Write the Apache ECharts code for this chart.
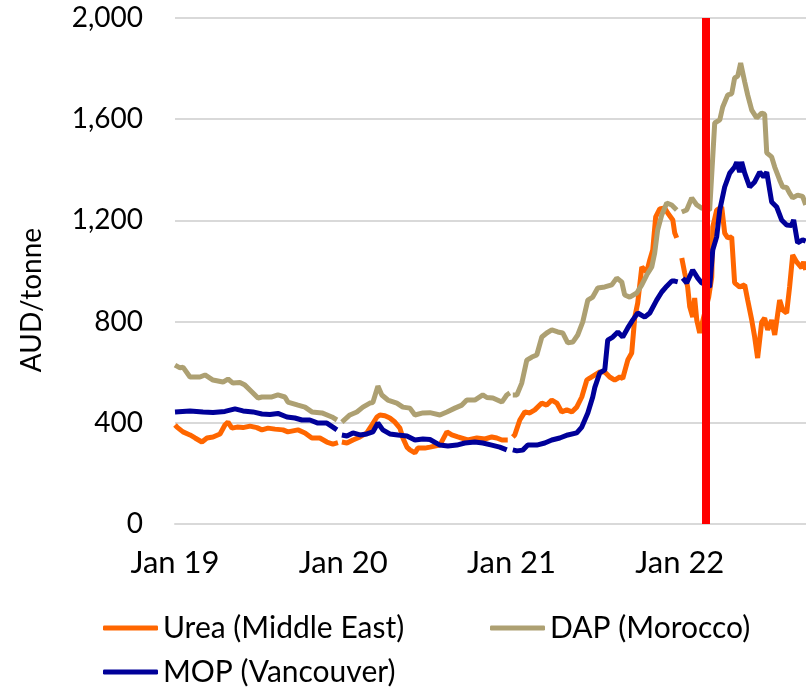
<!DOCTYPE html>
<html>
<head>
<meta charset="utf-8">
<script src="https://cdn.jsdelivr.net/npm/echarts@6/dist/echarts.min.js"></script>
<style>
  html, body { margin: 0; padding: 0; background: #fff; }
  #chart { width: 806px; height: 691px; }
</style>
</head>
<body>
<div id="chart"></div>
<script>
// months since Jan 2019, null value = break in the series
var ureaMonths = [0.0, 0.14, 0.57, 1.07, 1.43, 1.92, 2.28, 2.71, 3.21, 3.56, 3.78, 4.06, 4.42, 4.85, 5.35, 5.84, 6.20, 6.63, 7.13, 7.70, 8.05, 8.77, 9.27, 9.76, 10.33, 10.83, 11.26, 11.62,
    11.78,
    11.90, 12.26, 12.69, 13.19, 13.68, 14.04, 14.40, 14.61, 14.97, 15.32, 15.68, 16.04, 16.25, 16.54, 16.75, 17.11, 17.32, 17.82, 18.18, 18.89, 19.39, 19.74, 20.17, 20.88, 21.53, 22.10, 22.59, 22.95, 23.31, 23.73,
    23.90,
    24.09, 24.23, 24.59, 24.95, 25.30, 25.66, 26.16, 26.51, 26.87, 27.23, 27.58, 27.94, 28.30, 28.65, 29.01, 29.37, 29.58, 29.72, 30.29, 30.65, 31.00, 31.36, 31.72, 31.93, 32.29, 32.57, 32.79, 33.00, 33.29, 33.64, 33.86, 34.07, 34.28, 34.57, 34.92, 35.14, 35.50, 35.64, 35.78,
    35.95,
    36.14, 36.35, 36.56, 36.71, 36.92, 37.06, 37.21, 37.42, 38.06, 38.28, 38.35, 38.63, 38.99, 39.20, 39.42, 39.70, 39.91, 40.27, 40.63, 40.84, 41.13, 41.34, 41.55, 41.84, 42.05, 42.27, 42.55, 42.77, 43.12, 43.34, 43.62, 43.83, 44.05, 44.33, 44.69, 44.83, 44.98];
var ureaValues = [391, 383, 364, 352, 340, 324, 340, 344, 356, 391, 403, 379, 383, 381, 387, 381, 372, 379, 375, 372, 364, 372, 360, 340, 340, 324, 316, 322,
    null,
    324, 320, 332, 344, 360, 391, 423, 431, 428, 419, 403, 379, 340, 304, 293, 281, 300, 300, 304, 312, 364, 352, 344, 332, 340, 336, 344, 340, 332, 332,
    null,
    344, 352, 411, 443, 439, 451, 478, 470, 490, 478, 443, 451, 443, 462, 502, 569, 577, 581, 601, 601, 581, 569, 581, 575, 648, 676, 818, 874, 1016, 996, 1044, 1083, 1214, 1245, 1249, 1229, 1202, 1150, 1131,
    null,
    1051, 992, 937, 858, 818, 893, 806, 755, 897, 976, 1174, 1241, 1253, 1150, 1131, 1135, 953, 937, 945, 885, 806, 739, 656, 798, 814, 767, 806, 747, 885, 846, 834, 937, 1063, 1036, 1012, 1036, 1004];

var dapMonths = [0.0, 0.36, 0.57, 1.07, 1.78, 2.14, 2.71, 3.42, 3.78, 4.13, 4.63, 4.99, 5.49, 5.92, 6.20, 6.91, 7.34, 7.84, 8.05, 8.77, 9.27, 9.76, 10.48, 11.19, 11.55,
    11.75,
    11.90, 12.47, 12.97, 13.40, 13.90, 14.11, 14.47, 14.75, 15.18, 15.82, 16.25, 16.75, 17.11, 17.68, 18.18, 18.89, 19.39, 19.96, 20.46, 20.81, 21.38, 21.95, 22.24, 22.67, 23.31, 23.66, 23.88,
    24.00,
    24.09, 24.38, 24.73, 25.09, 25.45, 25.80, 26.16, 26.51, 26.87, 27.30, 27.65, 28.01, 28.37, 28.72, 29.08, 29.44, 29.79, 30.15, 30.65, 31.15, 31.50, 31.86, 32.07, 32.43, 32.93, 33.29, 33.64, 34.00, 34.21, 34.42, 34.71, 35.07, 35.42, 35.78,
    36.00,
    36.14, 36.49, 36.85, 37.21, 37.56, 38.13, 38.49, 38.85, 39.06, 39.42, 39.70, 39.91, 40.13, 40.34, 40.63, 40.84, 41.13, 41.48, 41.84, 42.05, 42.20, 42.55, 42.77, 43.12, 43.34, 43.62, 43.83, 44.05, 44.40, 44.76, 44.98];
var dapValues = [628, 617, 620, 581, 581, 589, 569, 561, 573, 557, 559, 549, 522, 498, 502, 502, 510, 502, 482, 470, 462, 443, 439, 423, 411,
    null,
    403, 431, 443, 462, 478, 480, 545, 510, 490, 478, 462, 458, 431, 439, 440, 431, 443, 458, 470, 490, 490, 510, 500, 498, 482, 510, 518,
    null,
    510, 510, 557, 648, 660, 668, 739, 755, 767, 759, 755, 716, 719, 747, 799, 885, 897, 933, 937, 945, 972, 957, 905, 897, 913, 945, 984, 1016, 1071, 1162, 1221, 1269, 1261, 1241,
    null,
    1233, 1241, 1289, 1261, 1249, 1241, 1585, 1597, 1648, 1696, 1700, 1763, 1770, 1822, 1747, 1696, 1636, 1605, 1624, 1620, 1467, 1451, 1411, 1360, 1332, 1330, 1308, 1289, 1300, 1295, 1261];

var mopMonths = [0.0, 0.14, 1.07, 2.00, 2.71, 3.56, 4.28, 4.85, 5.56, 6.20, 6.77, 7.34, 7.98, 8.55, 9.05, 9.62, 10.19, 10.83, 11.26, 11.55,
    11.80,
    11.90, 12.26, 12.69, 13.19, 13.68, 14.11, 14.47, 14.82, 15.32, 15.89, 16.54, 17.11, 17.68, 18.18, 18.89, 19.46, 20.10, 20.67, 21.38, 21.95, 22.59, 23.16, 23.66,
    23.90,
    24.09, 24.38, 24.80, 25.16, 25.80, 26.37, 26.87, 27.44, 28.01, 28.65, 29.01, 29.44, 29.79, 29.94, 30.29, 30.65, 30.86, 31.22, 31.58, 31.93, 32.29, 32.64, 33.00, 33.50, 33.86, 34.35, 34.71, 35.07, 35.42, 35.64, 35.85,
    36.00,
    36.21, 36.49, 36.92, 37.28, 37.56, 38.13, 38.35, 38.63, 38.85, 39.20, 39.56, 39.91, 40.06, 40.27, 40.41, 40.63, 40.98, 41.34, 41.70, 41.98, 42.20, 42.55, 42.91, 43.26, 43.62, 43.98, 44.12, 44.40, 44.76, 44.98];
var mopValues = [443, 440, 447, 443, 441, 445, 455, 447, 443, 435, 433, 437, 423, 419, 411, 411, 399, 399, 383, 372,
    null,
    352, 348, 360, 352, 356, 364, 399, 372, 356, 352, 348, 332, 336, 334, 312, 308, 312, 320, 324, 320, 312, 304, 293,
    null,
    293, 289, 292, 312, 312, 320, 332, 340, 352, 360, 383, 439, 502, 540, 597, 609, 727, 739, 759, 739, 775, 806, 834, 818, 834, 885, 917, 940, 960, 960, 957,
    null,
    972, 953, 1004, 972, 953, 937, 1083, 1135, 1241, 1332, 1387, 1411, 1430, 1391, 1431, 1387, 1332, 1352, 1391, 1372, 1391, 1273, 1253, 1202, 1182, 1180, 1202, 1111, 1123, 1118];

var yearTicks = { 0: 'Jan 19', 12: 'Jan 20', 24: 'Jan 21', 36: 'Jan 22' };
var eventMonth = 37.85; // late Feb 2022

function pairs(months, values) {
    return months.map(function (m, i) { return [m, values[i]]; });
}

var font = 'Lato, "Open Sans", sans-serif';
var chart = echarts.init(document.getElementById('chart'));

var legendBase = {
    icon: 'roundRect',
    itemWidth: 55,
    itemHeight: 5,
    itemGap: 0,
    padding: 0,
    textStyle: { fontFamily: font, fontSize: 30, color: '#000' }
};

var option = {
    animation: false,
    grid: { left: 175, right: 0, top: 18, bottom: 167, containLabel: false },
    xAxis: {
        type: 'value',
        min: 0,
        max: 45,
        interval: 12,
        axisLine: { show: true, lineStyle: { color: '#d9d9d9', width: 2 } },
        axisTick: { show: false },
        splitLine: { show: false },
        axisLabel: {
            margin: 23,
            showMaxLabel: false,
            fontFamily: font,
            fontSize: 31,
            color: '#000',
            formatter: function (v) { return yearTicks[v] || ''; }
        }
    },
    yAxis: {
        type: 'value',
        min: 0,
        max: 2000,
        interval: 400,
        axisLine: { show: false },
        axisTick: { show: false },
        splitLine: { lineStyle: { color: '#d9d9d9', width: 2 } },
        axisLabel: {
            margin: 32,
            fontFamily: font,
            fontSize: 28,
            color: '#000',
            formatter: function (v) { return v.toLocaleString('en-US'); }
        }
    },
    graphic: [{
        type: 'text',
        x: 32,
        y: 300,
        rotation: Math.PI / 2,
        style: {
            text: 'AUD/tonne',
            fontFamily: font,
            fontSize: 28,
            fill: '#000',
            align: 'center',
            verticalAlign: 'middle'
        }
    }],
    legend: [
        Object.assign({ data: ['Urea (Middle East)'], left: 103, top: 613 }, legendBase),
        Object.assign({ data: ['DAP (Morocco)'], left: 490, top: 613 }, legendBase),
        Object.assign({ data: ['MOP (Vancouver)'], left: 103, top: 657 }, legendBase)
    ],
    series: [
        {
            name: 'Urea (Middle East)',
            type: 'line',
            symbol: 'none',
            color: '#FF6600',
            lineStyle: { width: 5 },
            data: pairs(ureaMonths, ureaValues)
        },
        {
            name: 'DAP (Morocco)',
            type: 'line',
            symbol: 'none',
            color: '#ADA072',
            lineStyle: { width: 5 },
            data: pairs(dapMonths, dapValues)
        },
        {
            name: 'MOP (Vancouver)',
            type: 'line',
            symbol: 'none',
            color: '#000099',
            lineStyle: { width: 5 },
            data: pairs(mopMonths, mopValues),
            markLine: {
                silent: true,
                symbol: ['none', 'none'],
                label: { show: false },
                lineStyle: { color: '#FF0000', width: 8, type: 'solid' },
                data: [{ xAxis: eventMonth }]
            }
        }
    ]
};

chart.setOption(option);
window.addEventListener('resize', function () {
    chart.resize();
});
</script>
</body>
</html>
